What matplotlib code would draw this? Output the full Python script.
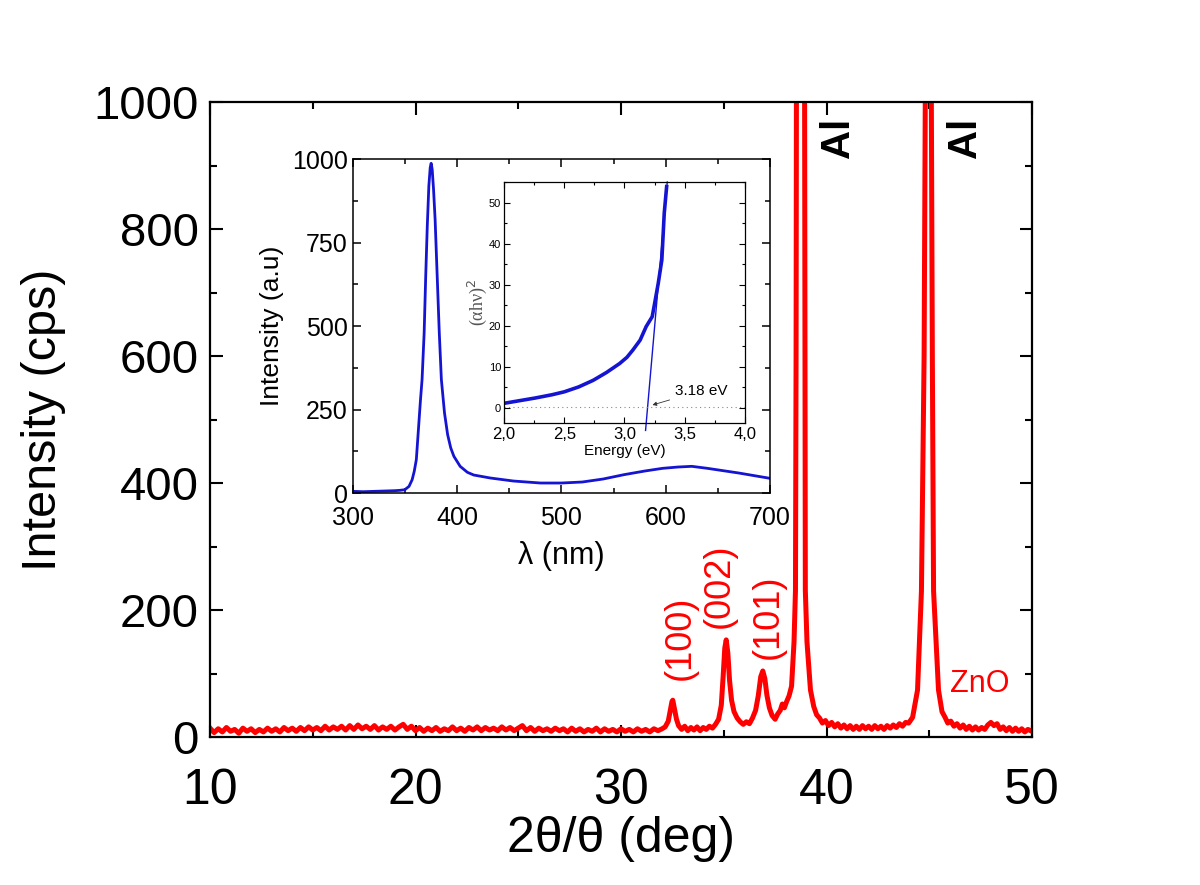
import matplotlib
matplotlib.use("Agg")
import matplotlib.pyplot as plt
from matplotlib.ticker import MultipleLocator, FuncFormatter

plt.rcParams['font.family'] = ['Liberation Sans', 'DejaVu Sans']

# XRD scan (2theta/theta), in four stretches
low_angle = [10.0, 10.2, 10.4, 10.6, 10.8, 11.0, 11.2, 11.4, 11.6, 11.8,
             12.0, 12.2, 12.4, 12.6, 12.8, 13.0, 13.2, 13.4, 13.6, 13.8,
             14.0, 14.2, 14.4, 14.6, 14.8, 15.0, 15.2, 15.4, 15.6, 15.8,
             16.0, 16.2, 16.4, 16.6, 16.8, 17.0, 17.2, 17.4, 17.6, 17.8,
             18.0, 18.2, 18.4, 18.6, 18.8, 19.0, 19.2, 19.4, 19.6, 19.8,
             20.0, 20.2, 20.4, 20.6, 20.8, 21.0, 21.2, 21.4, 21.6, 21.8,
             22.0, 22.2, 22.4, 22.6, 22.8, 23.0, 23.2, 23.4, 23.6, 23.8,
             24.0, 24.2, 24.4, 24.6, 24.8, 25.0, 25.2, 25.4, 25.6, 25.8,
             26.0, 26.2, 26.4, 26.6, 26.8, 27.0, 27.2, 27.4, 27.6, 27.8,
             28.0, 28.2, 28.4, 28.6, 28.8, 29.0, 29.2, 29.4, 29.6, 29.8,
             30.0, 30.2, 30.4, 30.6, 30.8, 31.0, 31.2, 31.4, 31.6, 31.8,
             32.0]
low_counts = [14, 7, 13, 8, 15, 9, 12, 6, 14, 9,
              13, 7, 12, 8, 14, 9, 13, 8, 15, 10,
              14, 9, 15, 10, 16, 11, 15, 10, 17, 11,
              16, 12, 17, 11, 18, 12, 19, 13, 17, 12,
              18, 11, 16, 12, 17, 11, 16, 20, 12, 17,
              10, 15, 9, 14, 10, 15, 9, 13, 10, 16,
              10, 14, 9, 15, 11, 16, 10, 15, 11, 14,
              10, 16, 11, 15, 10, 14, 18, 10, 15, 9,
              14, 10, 13, 9, 14, 10, 13, 8, 14, 9,
              13, 8, 12, 9, 14, 8, 13, 9, 12, 8,
              13, 9, 12, 8, 13, 9, 12, 8, 13, 10,
              13]

zno_angle = [32.15, 32.3, 32.4, 32.48, 32.52, 32.6, 32.7, 32.8, 32.95, 33.1,
             33.25, 33.4, 33.55, 33.7, 33.85, 34.0, 34.15, 34.3, 34.45, 34.6,
             34.75, 34.88, 34.97, 35.05, 35.12, 35.2, 35.28, 35.38, 35.5, 35.65,
             35.8, 35.95, 36.1, 36.25, 36.4, 36.55, 36.68, 36.8, 36.9, 37.0,
             37.1, 37.22, 37.35, 37.5, 37.62, 37.75, 37.85, 37.95, 38.05, 38.18,
             38.3, 38.42, 38.49, 38.52, 38.54]
zno_counts = [16, 25, 42, 56, 58, 45, 28, 18, 12, 17,
              10, 15, 11, 16, 10, 15, 12, 17, 14, 20,
              28, 50, 95, 140, 153, 132, 90, 58, 40, 30,
              24, 20, 24, 21, 30, 42, 65, 95, 104, 92,
              66, 46, 34, 28, 36, 42, 52, 46, 55, 65,
              80, 150, 231, 600, 1100]

mid_angle = [38.93, 38.95, 38.97, 39.05, 39.22, 39.38, 39.52, 39.66, 39.8, 39.95,
             40.1, 40.25, 40.4, 40.55, 40.7, 40.85, 41.0, 41.15, 41.3, 41.45,
             41.6, 41.75, 41.9, 42.05, 42.2, 42.35, 42.5, 42.65, 42.8, 42.95,
             43.1, 43.25, 43.4, 43.55, 43.7, 43.85, 44.0, 44.19, 44.43, 44.62,
             44.75, 44.82]
mid_counts = [1100, 600, 231, 150, 74, 48, 35, 30, 22, 26,
              18, 23, 16, 21, 14, 19, 13, 18, 12, 17,
              12, 18, 13, 17, 12, 18, 13, 17, 12, 18,
              14, 19, 15, 21, 17, 23, 22, 31, 74, 230,
              600, 1100]

high_angle = [45.09, 45.15, 45.21, 45.45, 45.62, 45.77, 45.9, 46.05, 46.2, 46.35,
              46.5, 46.65, 46.8, 46.95, 47.1, 47.25, 47.4, 47.55, 47.7, 47.85,
              48.0, 48.15, 48.3, 48.45, 48.6, 48.75, 48.9, 49.05, 49.2, 49.35,
              49.5, 49.65, 49.8, 50.0]
high_counts = [1100, 600, 230, 74, 40, 31, 22, 25, 17, 21,
               14, 19, 12, 17, 11, 16, 11, 15, 12, 19,
               23, 18, 21, 12, 16, 10, 15, 9, 14, 9,
               13, 8, 12, 9]

# photoluminescence spectrum (inset)
wavelength = [300, 310, 320, 330, 340, 345, 350, 354, 357, 359, 361, 363, 365, 366.5,
              368.5, 370, 371.5, 373, 374.3, 375.2, 376.2, 377.5, 379, 381, 383, 385,
              388, 391, 394, 397, 403, 410, 416, 432, 454, 480, 500, 520, 540, 560,
              580, 597, 612, 625, 640, 655, 670, 685, 700]
pl_intensity = [5, 4, 5, 6, 7, 8, 10, 20, 40, 65, 100, 190, 280, 340,
                480, 650, 800, 920, 975, 988, 970, 910, 820, 650, 480, 340,
                240, 175, 135, 110, 80, 62, 54, 45, 36, 30, 30, 33, 42, 55,
                66, 74, 78, 80, 74, 67, 60, 52, 44]

# Tauc plot (inner inset)
energy = [2.0, 2.1, 2.26, 2.4, 2.5, 2.62, 2.74, 2.85, 2.96, 3.02, 3.07, 3.13, 3.18,
          3.23, 3.25, 3.28, 3.31, 3.33, 3.35]
tauc = [1.1, 1.6, 2.4, 3.2, 3.9, 5.1, 6.7, 8.6, 10.8, 12.3, 14.1, 16.5, 19.8,
        22.2, 25.4, 30.3, 36.0, 47.4, 53.9]
fit_energy = [3.175, 3.355]
fit_tauc = [-5.5, 55.0]
gap_ev = 3.18

two_theta = low_angle + zno_angle + mid_angle + high_angle
counts = low_counts + zno_counts + mid_counts + high_counts

fig = plt.figure(figsize=(12, 8.85), dpi=100)

# ---- main XRD axes
ax = fig.add_axes([0.175, 0.1672, 0.685, 0.7175])
ax.plot(two_theta, counts, color='#ff0000', lw=3.6)
ax.set_xlim(10, 50)
ax.set_ylim(0, 1000)
ax.xaxis.set_major_locator(MultipleLocator(10))
ax.xaxis.set_minor_locator(MultipleLocator(5))
ax.yaxis.set_major_locator(MultipleLocator(200))
ax.yaxis.set_minor_locator(MultipleLocator(100))
ax.tick_params(which='both', direction='in', top=True, right=True, width=1.5)
ax.tick_params(which='major', length=9)
ax.tick_params(which='minor', length=5)
ax.tick_params(axis='y', labelsize=34, pad=8)
ax.tick_params(axis='x', labelsize=36, pad=22)
for s in ax.spines.values():
    s.set_linewidth(1.6)
ax.set_ylabel('Intensity (cps)', fontsize=35, labelpad=20)
ax.set_xlabel('2θ/θ (deg)', fontsize=36, labelpad=2)

ax.text(40.56, 943, 'Al', rotation=90, fontsize=29, fontweight='bold',
        ha='center', va='center')
ax.text(46.74, 943, 'Al', rotation=90, fontsize=29, fontweight='bold',
        ha='center', va='center')
ax.text(32.9, 156, '(100)', rotation=90, fontsize=26, color='#ff0000', ha='center', va='center')
ax.text(34.77, 239, '(002)', rotation=90, fontsize=26, color='#ff0000', ha='center', va='center')
ax.text(37.15, 189, '(101)', rotation=90, fontsize=26, color='#ff0000', ha='center', va='center')
ax.text(47.47, 83, 'ZnO', fontsize=22, color='#ff0000', ha='center', va='center')

# ---- PL inset
ins = fig.add_axes([0.2939, 0.4429, 0.3478, 0.3771])
ins.plot(wavelength, pl_intensity, color='#1414d2', lw=2.0)
ins.set_xlim(300, 700)
ins.set_ylim(0, 1000)
ins.xaxis.set_major_locator(MultipleLocator(100))
ins.xaxis.set_minor_locator(MultipleLocator(50))
ins.yaxis.set_major_locator(MultipleLocator(250))
ins.yaxis.set_minor_locator(MultipleLocator(125))
ins.tick_params(which='both', direction='in', top=True, right=True, width=1.1, labelsize=18)
ins.tick_params(which='major', length=6)
ins.tick_params(which='minor', length=3.5)
ins.tick_params(axis='x', pad=9)
for s in ins.spines.values():
    s.set_linewidth(1.1)
ins.set_ylabel('Intensity (a.u)', fontsize=19, labelpad=6)
ins.set_xlabel('λ (nm)', fontsize=22, labelpad=8)

# ---- Tauc inner inset
tau = fig.add_axes([0.42, 0.522, 0.2008, 0.2723])
tau.plot(energy, tauc, color='#1414d2', lw=2.6)
tau.plot(fit_energy, fit_tauc, color='#1414d2', lw=1.0, clip_on=False)
tau.axhline(0.3, color='#888888', lw=0.8, ls=(0, (1, 3)))
tau.set_xlim(2.0, 4.0)
tau.set_ylim(-3.7, 55)
tau.xaxis.set_major_locator(MultipleLocator(0.5))
tau.xaxis.set_minor_locator(MultipleLocator(0.25))
tau.yaxis.set_major_locator(MultipleLocator(10))
tau.yaxis.set_minor_locator(MultipleLocator(5))
tau.xaxis.set_major_formatter(FuncFormatter(lambda v, p: f'{v:.1f}'.replace('.', ',')))
tau.tick_params(which='both', direction='in', top=True, right=True, width=0.8)
tau.tick_params(which='major', length=4)
tau.tick_params(which='minor', length=2.5)
tau.tick_params(axis='x', labelsize=12, pad=3)
tau.tick_params(axis='y', labelsize=8, pad=2)
for s in tau.spines.values():
    s.set_linewidth(0.9)
tau.set_xlabel('Energy (eV)', fontsize=11, labelpad=1)
tau.set_ylabel('(αhν)$^2$', fontsize=13, family=['Liberation Serif', 'DejaVu Serif'],
               color='#555555', labelpad=0)
tau.annotate(f'{gap_ev:.2f} eV', xy=(3.21, 0.5), xytext=(3.42, 4.2), fontsize=11,
             va='center',
             arrowprops=dict(arrowstyle='-|>', color='#333333', lw=0.6, mutation_scale=6))

fig.savefig('out.png', dpi=100)
